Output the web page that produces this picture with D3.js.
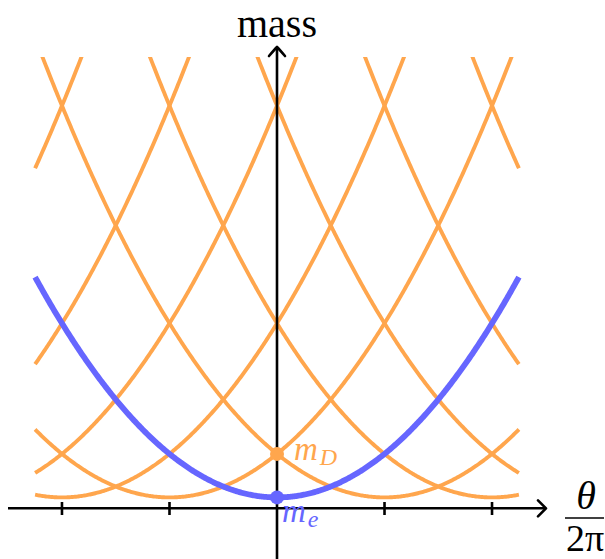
<!DOCTYPE html>
<html>
<head>
<meta charset="utf-8" />
<style>
html, body { margin: 0; padding: 0; background: #fff; }
svg { display: block; }
text { font-family: "Liberation Serif", "DejaVu Serif", serif; }
</style>
</head>
<body>
<svg id="chart" width="605" height="559"></svg>
<script src="https://d3js.org/d3.v7.min.js"></script>
<script>
// parabola centres (theta/2pi) and the vertex mass
var orangeCenters = [-5, -4, -3, -2, -1, 1, 2, 3, 4, 5];
var blueCenters = [0];
var vertexMass = 0.25;
var curvature = 1;          // mass rise per unit^2 of theta/2pi
var xTicks = [-2, -1, 1, 2];
var xRange = [-2.25, 2.25];
var yMax = 10.37;

var orange = "#ffa64d", blue = "#6666ff";

var svg = d3.select("#chart");
var x = d3.scaleLinear().domain(xRange).range([35.1, 518.9]);
var y = d3.scaleLinear().domain([0, yMax]).range([508.3, 57]);

svg.append("clipPath").attr("id", "plotclip")
  .append("rect")
  .attr("x", x(xRange[0]) - 5).attr("y", y(yMax))
  .attr("width", x(xRange[1]) - x(xRange[0]) + 10)
  .attr("height", y(0) - y(yMax) + 10);

var line = d3.line()
  .x(function(d) { return x(d[0]); })
  .y(function(d) { return y(d[1]); });

function parabola(c) {
  return d3.range(xRange[0], xRange[1] + 1e-9, 0.01).map(function(t) {
    return [t, vertexMass + curvature * (t - c) * (t - c)];
  });
}

var g = svg.append("g").attr("clip-path", "url(#plotclip)");
g.selectAll("path.orange").data(orangeCenters).enter().append("path")
  .attr("class", "orange")
  .attr("d", function(c) { return line(parabola(c)); })
  .attr("fill", "none").attr("stroke", orange).attr("stroke-width", 3.9);

// axes
var ax = svg.append("g").attr("stroke", "#000").attr("fill", "none").attr("stroke-width", 2.6);
ax.append("line").attr("x1", 8).attr("x2", 545).attr("y1", y(0)).attr("y2", y(0));
ax.append("line").attr("x1", x(0)).attr("x2", x(0)).attr("y1", 559).attr("y2", 48);
ax.append("path").attr("stroke-linecap", "round").attr("stroke-linejoin", "round")
  .attr("d", "M" + (x(0) - 8) + "," + 56 + " Q" + (x(0) - 2) + ",49 " + x(0) + ",47 Q" + (x(0) + 2) + ",49 " + (x(0) + 8) + ",56");
ax.append("path").attr("stroke-linecap", "round").attr("stroke-linejoin", "round")
  .attr("d", "M538," + (y(0) - 8) + " Q544," + (y(0) - 2) + " 546," + y(0) + " Q544," + (y(0) + 2) + " 538," + (y(0) + 8));
ax.selectAll("line.tick").data(xTicks).enter().append("line")
  .attr("class", "tick")
  .attr("x1", function(d) { return x(d); }).attr("x2", function(d) { return x(d); })
  .attr("y1", 502).attr("y2", 515);

g.selectAll("path.blue").data(blueCenters).enter().append("path")
  .attr("class", "blue")
  .attr("d", function(c) { return line(parabola(c)); })
  .attr("fill", "none").attr("stroke", blue).attr("stroke-width", 5.8);

// points m_D and m_e
svg.append("circle").attr("cx", x(0)).attr("cy", y(vertexMass + curvature)).attr("r", 7).attr("fill", orange);
svg.append("circle").attr("cx", x(0)).attr("cy", y(vertexMass)).attr("r", 7).attr("fill", blue);

// labels
svg.append("text").attr("x", x(0)).attr("y", 37).attr("text-anchor", "middle")
  .attr("font-size", 40).text("mass");

var mD = svg.append("text").attr("x", 294).attr("y", 460).attr("fill", orange)
  .attr("font-size", 33).attr("font-style", "italic");
mD.append("tspan").text("m");
mD.append("tspan").attr("font-size", 24).attr("dx", 2).attr("dy", 5).text("D");

var me = svg.append("text").attr("x", 282).attr("y", 522).attr("fill", blue)
  .attr("font-size", 33).attr("font-style", "italic");
me.append("tspan").text("m");
me.append("tspan").attr("font-size", 24).attr("dx", 2).attr("dy", 5).text("e");

svg.append("text").attr("x", 586).attr("y", 509).attr("text-anchor", "middle")
  .attr("font-size", 40).attr("font-style", "italic").text("θ");
svg.append("line").attr("x1", 565).attr("x2", 604).attr("y1", 518).attr("y2", 518)
  .attr("stroke", "#000").attr("stroke-width", 1.6);
svg.append("text").attr("x", 585).attr("y", 551).attr("text-anchor", "middle")
  .attr("font-size", 38).text("2π");
</script>
</body>
</html>
